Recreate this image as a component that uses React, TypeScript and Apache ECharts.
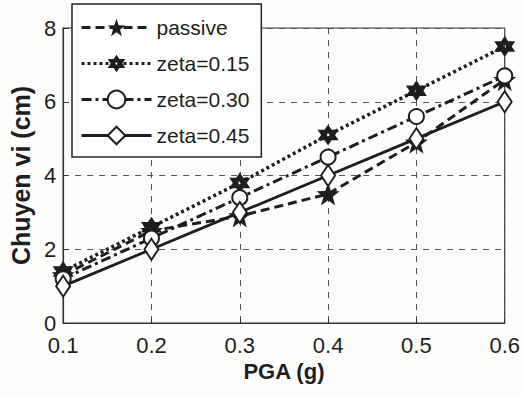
import React, { useEffect, useRef } from "react";
import * as echarts from "echarts";

const categories = ["0.1", "0.2", "0.3", "0.4", "0.5", "0.6"];
const seriesNames = ["passive", "zeta=0.15", "zeta=0.30", "zeta=0.45"];
const passive = [1.3, 2.5, 2.9, 3.5, 4.9, 6.6];
const zeta015 = [1.4, 2.6, 3.8, 5.1, 6.3, 7.5];
const zeta030 = [1.2, 2.3, 3.4, 4.5, 5.6, 6.7];
const zeta045 = [1.0, 2.0, 3.0, 4.0, 5.0, 6.0];
const yTicks = { min: 0, max: 8, interval: 2 };

const STAR =
  "path://M50 0 L61.76 33.82 L97.55 34.55 L69.02 56.18 L79.39 90.45 L50 70 L20.61 90.45 L30.98 56.18 L2.45 34.55 L38.24 33.82 Z";
const HEXAGRAM =
  "path://M50 0 L64.43 25 L93.3 25 L78.87 50 L93.3 75 L64.43 75 L50 100 L35.57 75 L6.7 75 L21.13 50 L6.7 25 L35.57 25 Z M45 44 L45 56 L55 56 L55 44 Z";

const INK = "#1e1e1e";
const FONT = "'Liberation Sans', Arial, Helvetica, sans-serif";

export default function App() {
  const ref = useRef<HTMLDivElement>(null);
  useEffect(() => {
    if (!ref.current) return;
    const chart = echarts.init(ref.current, null, { renderer: "svg" });
    const base = {
      type: "line" as const,
      showAllSymbol: true,
      color: INK,
      z: 3,
    };
    chart.setOption({
      animation: false,
      backgroundColor: "#fdfdfc",
      textStyle: { fontFamily: FONT, color: INK },
      grid: {
        left: 59,
        right: 16,
        top: 28,
        bottom: 74,
        show: true,
        borderColor: "#333",
        borderWidth: 1.2,
        backgroundColor: "transparent",
      },
      legend: {
        orient: "vertical",
        left: 72,
        top: 4,
        itemWidth: 70,
        itemHeight: 22,
        itemGap: 15,
        padding: [13, 12, 11, 8],
        backgroundColor: "#fff",
        borderColor: "#222",
        borderWidth: 1.5,
        borderRadius: 0,
        lineStyle: { width: 3 },
        textStyle: { fontSize: 21, color: INK, fontFamily: FONT },
        data: seriesNames,
        z: 10,
      },
      xAxis: {
        type: "category",
        data: categories,
        boundaryGap: false,
        name: "PGA (g)",
        nameLocation: "middle",
        nameGap: 35,
        nameTextStyle: { fontSize: 22, fontWeight: "bold", color: INK },
        axisLine: { show: true, lineStyle: { color: "#333", width: 1.2 } },
        axisTick: { show: true, inside: true, length: 5, lineStyle: { color: "#333" } },
        axisLabel: { fontSize: 22, color: INK, margin: 11 },
        splitLine: {
          show: true,
          lineStyle: { type: [6, 6], color: "#555", width: 1 },
        },
      },
      yAxis: {
        type: "value",
        min: yTicks.min,
        max: yTicks.max,
        interval: yTicks.interval,
        name: "Chuyen vi (cm)",
        nameLocation: "middle",
        nameGap: 27,
        nameTextStyle: { fontSize: 25, fontWeight: "bold", color: INK },
        axisLine: { show: true, lineStyle: { color: "#333", width: 1.2 } },
        axisTick: { show: true, inside: true, length: 5, lineStyle: { color: "#333" } },
        axisLabel: { fontSize: 22, color: INK, margin: 7 },
        splitLine: {
          show: true,
          lineStyle: { type: [6, 6], color: "#555", width: 1 },
        },
      },
      series: [
        {
          ...base,
          name: seriesNames[0],
          data: passive,
          symbol: STAR,
          symbolSize: 23,
          lineStyle: { color: INK, width: 3, type: [9, 5] },
          itemStyle: { color: INK },
        },
        {
          ...base,
          name: seriesNames[1],
          data: zeta015,
          symbol: HEXAGRAM,
          symbolSize: 21,
          lineStyle: { color: INK, width: 3.5, type: [3, 3] },
          itemStyle: { color: INK },
        },
        {
          ...base,
          name: seriesNames[2],
          data: zeta030,
          symbol: "emptyCircle",
          symbolSize: 15,
          lineStyle: { color: INK, width: 3, type: [10, 4, 3, 4] },
          itemStyle: { color: INK, borderColor: INK, borderWidth: 2.5 },
        },
        {
          ...base,
          name: seriesNames[3],
          data: zeta045,
          symbol: "emptyDiamond",
          symbolSize: [14, 21],
          lineStyle: { color: INK, width: 2.8, type: "solid" },
          itemStyle: { color: INK, borderColor: INK, borderWidth: 2.5 },
        },
      ],
    });
    return () => chart.dispose();
  }, []);
  return <div ref={ref} style={{ width: 523, height: 397, position: "absolute", left: 0, top: 0 }} />;
}
